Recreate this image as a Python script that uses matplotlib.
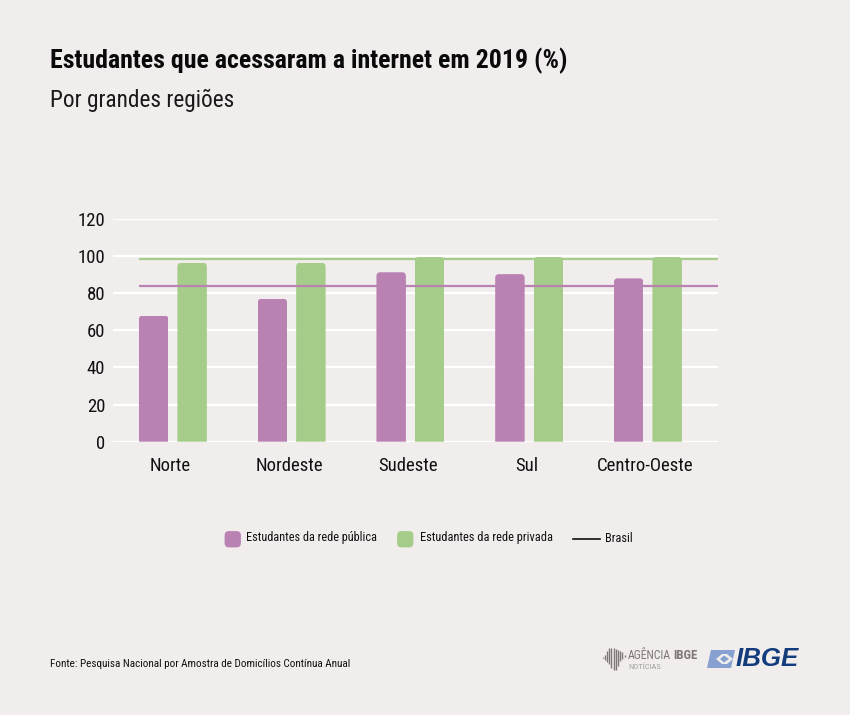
import matplotlib
matplotlib.use("Agg")
import matplotlib.pyplot as plt
from matplotlib import font_manager as fm
from matplotlib.path import Path
from matplotlib.patches import FancyBboxPatch, Polygon
from matplotlib.lines import Line2D

regions = ["Norte", "Nordeste", "Sudeste", "Sul", "Centro-Oeste"]
public_values = [68, 77, 91.3, 90.3, 88]
private_values = [96.4, 96.4, 99.5, 99.5, 99.5]
brasil_public = 84
brasil_private = 98.4
y_ticks = [0, 20, 40, 60, 80, 100, 120]
title = "Estudantes que acessaram a internet em 2019 (%)"
subtitle = "Por grandes regiões"
source = "Fonte: Pesquisa Nacional por Amostra de Domicílios Contínua Anual"
legend_labels = ["Estudantes da rede pública", "Estudantes da rede privada", "Brasil"]

BG = "#f1eded"
PURPLE = "#ba82b3"
GREEN = "#a5cd89"

faces = fm.fontManager.ttflist
narrow = sorted({f.name for f in faces if ("Condensed" in f.name or "Narrow" in f.name)
                 and f.name.split()[0] in ("Roboto", "Open", "Liberation", "Lato", "DejaVu")},
                key=lambda n: (not n.startswith("Roboto"), n))
FONT = narrow[0] if narrow else "Lato"
plt.rcParams["font.family"] = [FONT, "DejaVu Sans"]
REG = "normal"

W, H = 850, 715
fig = plt.figure(figsize=(W / 100, H / 100), dpi=100, facecolor=BG)
renderer = fig.canvas.get_renderer()


def px(x, y):
    return x / W, 1 - y / H


def fit_size(text, width, **kw):
    t = fig.text(0, 0, text, fontsize=10, **kw)
    w = t.get_window_extent(renderer).width
    t.remove()
    return 10 * width / w


def fit_text(x, y, text, width, **kw):
    size = fit_size(text, width, **{k: v for k, v in kw.items() if k in ("fontweight", "style", "family")})
    return fig.text(*px(x, y), text, fontsize=size, va="center", **kw)


ax = fig.add_axes([113.5 / W, 1 - 441.7 / H, 604.5 / W, 222.7 / H], facecolor="none")
ax.set_xlim(-0.5, 4.59)
ax.set_ylim(0, 120)

for s in ax.spines.values():
    s.set_visible(False)
ax.set_yticks(y_ticks)
ax.set_xticks([i - 0.02 for i in range(len(regions))])
ax.set_xticklabels(regions)
tick_size = fit_size("Centro-Oeste", 96, fontweight=REG)
ax.tick_params(axis="both", length=0, labelsize=tick_size, labelcolor="#111111")
ax.tick_params(axis="x", pad=11)
ax.tick_params(axis="y", pad=6)
for lab in ax.get_xticklabels() + ax.get_yticklabels():
    lab.set_fontweight(REG)
ax.grid(axis="y", color="white", lw=1.6, zorder=1)
ax.grid(axis="x", visible=False)
ax.set_axisbelow(True)

BW, OFF = 0.248, 0.162
RX, RY = 0.028, 1.9


def round_top(x, w, h):
    k = 0.45
    verts = [(x, 0), (x, h - RY), (x, h - RY * k), (x + RX * k, h), (x + RX, h),
             (x + w - RX, h), (x + w - RX * k, h), (x + w, h - RY * k), (x + w, h - RY),
             (x + w, 0), (x, 0)]
    codes = [Path.MOVETO, Path.LINETO, Path.CURVE4, Path.CURVE4, Path.CURVE4,
             Path.LINETO, Path.CURVE4, Path.CURVE4, Path.CURVE4, Path.LINETO, Path.CLOSEPOLY]
    return Path(verts, codes)


for off, vals, col in [(-OFF, public_values, PURPLE), (OFF, private_values, GREEN)]:
    bars = ax.bar([i + off for i in range(len(regions))], vals, BW, color=col, zorder=2, lw=0)
    for b in bars:
        b.set_clip_path(round_top(b.get_x(), b.get_width(), b.get_height()), ax.transData)

x0 = -0.286
ax.plot([x0, 4.59], [brasil_private] * 2, color=GREEN, lw=1.6, zorder=3, solid_capstyle="butt")
ax.plot([x0, 4.59], [brasil_public] * 2, color=PURPLE, lw=1.6, zorder=3, solid_capstyle="butt")

fit_text(50, 61, title, 518, fontweight="bold", color="#0a0a0a")
fit_text(50, 100, subtitle, 183, color="#1a1a1a", fontweight=REG)
fit_text(50, 664, source, 300, color="#111111", fontweight=REG)

# legend
for x, col in [(225, PURPLE), (397.5, GREEN)]:
    fig.add_artist(FancyBboxPatch(px(x + 3, 544), 9.5 / W, 9.5 / H,
                                  boxstyle="round,pad=0.004,rounding_size=0.005",
                                  mutation_aspect=W / H, fc=col, ec="none", transform=fig.transFigure))
fig.add_artist(Line2D([573 / W, 600 / W], [1 - 539 / H] * 2, color="#111111", lw=1.2))
for x, wd, t in zip([246.5, 419.5, 604.5], [130.5, 131.5, 27.5], legend_labels):
    fit_text(x, 538, t, wd, color="#111111", fontweight=REG)

# Agencia IBGE mark
gray = "#7d7877"
for i, (a, b) in enumerate([(657, 658), (655, 660), (651, 662), (648, 664), (648, 668), (648, 670), (649, 670),
                            (650, 666), (651, 661), (652, 659), (655, 657)]):
    xx = 602.5 + i * 2.2
    fig.add_artist(Line2D([xx / W] * 2, [1 - a / H, 1 - b / H], color=gray, lw=1.0, solid_capstyle="butt"))
fit_text(628, 655.5, "AGÊNCIA", 43, color=gray, fontweight=REG)
fit_text(673, 655.5, "IBGE", 24, color=gray, fontweight="bold")
fit_text(628, 667, "NOTÍCIAS", 33, color="#a5a1a0", fontweight=REG)

# IBGE logo
light = "#86a0cf"
fig.add_artist(Polygon([px(711, 650), px(735, 650), px(731, 668), px(707, 668)], closed=True, fc=light, ec="none",
                       transform=fig.transFigure))
fig.add_artist(Polygon([px(716, 659), px(722, 654), px(727, 654), px(733, 659), px(727, 664), px(722, 664)],
                       closed=True, fc=BG, ec="none", transform=fig.transFigure))
fig.add_artist(Polygon([px(720, 659), px(724, 655.5), px(729, 659), px(724, 662.5)], closed=True, fc=light,
                       ec="none", transform=fig.transFigure))
fit_text(736, 659.5, "IBGE", 63, color="#123c7c", fontweight="bold", style="italic",
         family=["Liberation Sans", "DejaVu Sans"])

fig.savefig("out.png", dpi=100, facecolor=BG)
